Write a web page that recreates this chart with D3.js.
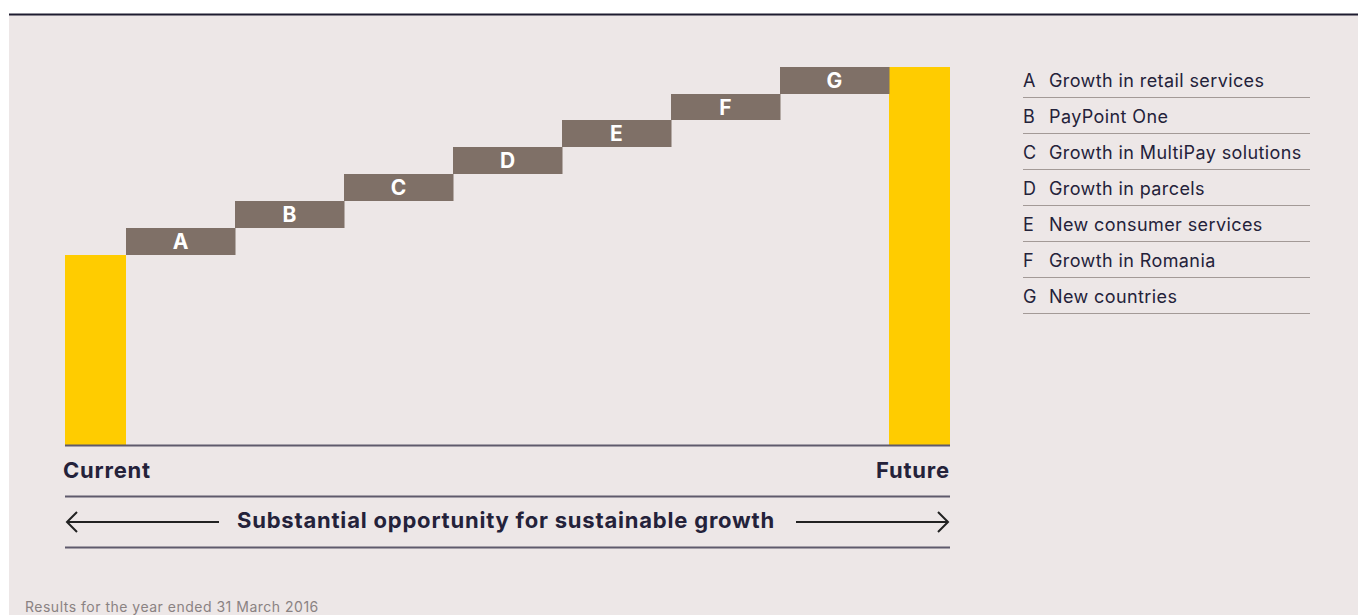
<!DOCTYPE html>
<html>
<head>
<meta charset="utf-8">
<script src="https://cdn.jsdelivr.net/npm/d3@7"></script>
<style>
  html, body { margin: 0; padding: 0; background: #fff; }
  svg { display: block; }
</style>
</head>
<body>
<svg id="chart"></svg>
<script>
// data
var startValue = 190
var steps = ['A', 'B', 'C', 'D', 'E', 'F', 'G']
var stepValues = [27, 27, 27, 27, 27, 26, 27]
var legendLabels = [
  'Growth in retail services',
  'PayPoint One',
  'Growth in MultiPay solutions',
  'Growth in parcels',
  'New consumer services',
  'Growth in Romania',
  'New countries'
]
var endLabels = ['Current', 'Future']
var arrowText = 'Substantial opportunity for sustainable growth'
var footnote = 'Results for the year ended 31 March 2016'

var width = 1358, height = 615
var font = 'Inter, "Open Sans", sans-serif'
var dark = '#24223a'

var svg = d3.select('#chart')
  .attr('width', width)
  .attr('height', height)

// panel background + top rule
svg.append('rect')
  .attr('x', 9).attr('y', 14)
  .attr('width', width - 9).attr('height', height - 14)
  .attr('fill', '#ede7e7')
svg.append('line')
  .attr('x1', 9).attr('x2', width)
  .attr('y1', 14.5).attr('y2', 14.5)
  .attr('stroke', '#1e1c30').attr('stroke-width', 2)

// running totals
var total = startValue
var bars = steps.map(function(s, i) {
  var d = {key: s, y0: total, y1: total + stepValues[i]}
  total += stepValues[i]
  return d
})
var endValue = total

var y = d3.scaleLinear()
  .domain([0, endValue])
  .range([445, 67])

var x = d3.scaleBand()
  .domain(steps)
  .range([126, 889])
  .padding(0)

var endWidth = 61

// current and future bars
svg.append('rect')
  .attr('x', 126 - endWidth).attr('width', endWidth)
  .attr('y', y(startValue)).attr('height', y(0) - y(startValue))
  .attr('fill', '#ffcc00')
svg.append('rect')
  .attr('x', 889).attr('width', endWidth)
  .attr('y', y(endValue)).attr('height', y(0) - y(endValue))
  .attr('fill', '#ffcc00')

// step bars
var g = svg.selectAll('g.step')
  .data(bars)
  .enter()
  .append('g')
  .attr('class', 'step')

g.append('rect')
  .attr('x', function(d) { return x(d.key) })
  .attr('width', x.bandwidth() + 0.5)
  .attr('y', function(d) { return y(d.y1) })
  .attr('height', function(d) { return y(d.y0) - y(d.y1) })
  .attr('fill', '#7f7067')

g.append('text')
  .text(function(d) { return d.key })
  .attr('x', function(d) { return x(d.key) + x.bandwidth() / 2 })
  .attr('y', function(d) { return (y(d.y0) + y(d.y1)) / 2 + 7.5 })
  .attr('text-anchor', 'middle')
  .attr('fill', '#fff')
  .style('font-family', font)
  .style('font-weight', 700)
  .style('font-size', '21px')

// baseline and rules
var rules = [445.5, 496.5, 547.5]
svg.selectAll('line.rule')
  .data(rules)
  .enter()
  .append('line')
  .attr('class', 'rule')
  .attr('x1', 65).attr('x2', 950)
  .attr('y1', function(d) { return d }).attr('y2', function(d) { return d })
  .attr('stroke', '#5f5a6c').attr('stroke-width', 2)

svg.append('text')
  .text(endLabels[0])
  .attr('x', 63).attr('y', 478)
  .attr('fill', dark)
  .style('font-family', font).style('font-weight', 700).style('font-size', '22px')
  .style('letter-spacing', '0.8px')
svg.append('text')
  .text(endLabels[1])
  .attr('x', 950).attr('y', 478)
  .attr('text-anchor', 'end')
  .attr('fill', dark)
  .style('font-family', font).style('font-weight', 700).style('font-size', '22px')
  .style('letter-spacing', '0.8px')

// arrow row
svg.append('text')
  .text(arrowText)
  .attr('x', 506).attr('y', 528)
  .attr('text-anchor', 'middle')
  .attr('fill', dark)
  .style('font-family', font).style('font-weight', 700).style('font-size', '22px')
  .style('letter-spacing', '0.8px')

var arrowY = 522
svg.append('path')
  .attr('d', 'M219,' + arrowY + 'H67 M77,' + (arrowY - 10) + 'L67,' + arrowY + 'L77,' + (arrowY + 10))
  .attr('fill', 'none').attr('stroke', '#222').attr('stroke-width', 2)
svg.append('path')
  .attr('d', 'M796,' + arrowY + 'H948 M938,' + (arrowY - 10) + 'L948,' + arrowY + 'L938,' + (arrowY + 10))
  .attr('fill', 'none').attr('stroke', '#222').attr('stroke-width', 2)

// legend
var legend = svg.selectAll('g.legend')
  .data(legendLabels)
  .enter()
  .append('g')
  .attr('class', 'legend')
  .attr('transform', function(d, i) { return 'translate(0,' + (i * 36) + ')' })

legend.append('text')
  .text(function(d, i) { return steps[i] })
  .attr('x', 1023).attr('y', 87)
  .attr('fill', dark)
  .style('font-family', font).style('font-size', '18px')
legend.append('text')
  .text(function(d) { return d })
  .attr('x', 1049).attr('y', 87)
  .attr('fill', dark)
  .style('font-family', font).style('font-size', '18px')
  .style('letter-spacing', '0.4px')
legend.append('line')
  .attr('x1', 1023).attr('x2', 1310)
  .attr('y1', 97.5).attr('y2', 97.5)
  .attr('stroke', '#a39a97').attr('stroke-width', 1.2)

// footnote
svg.append('text')
  .text(footnote)
  .attr('x', 25).attr('y', 612)
  .attr('fill', '#8a8282')
  .style('font-family', font).style('font-size', '14px')
  .style('letter-spacing', '0.5px')
</script>
</body>
</html>
